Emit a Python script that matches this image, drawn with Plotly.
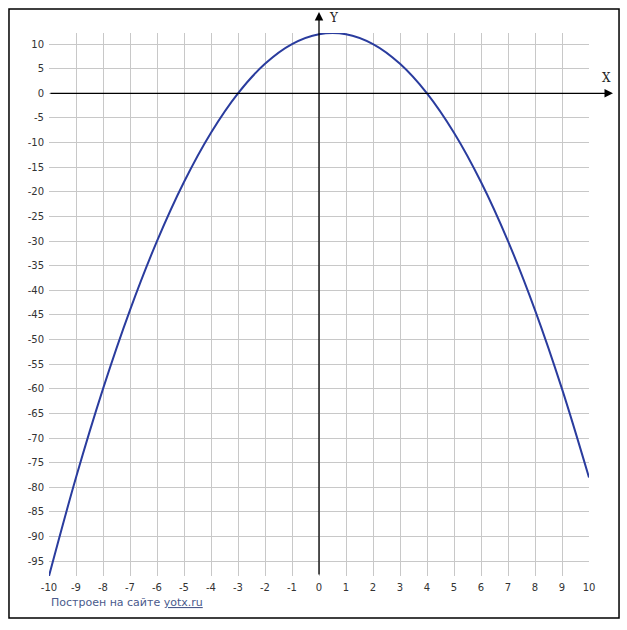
import plotly.graph_objects as go

# points at each grid x
x_vals = [-10, -9, -8, -7, -6, -5, -4, -3, -2, -1, 0, 1, 2, 3, 4, 5, 6, 7, 8, 9, 10]
y_vals = [-98, -78, -60, -44, -30, -18, -8, 0, 6, 10, 12, 12, 10, 6, 0, -8, -18, -30, -44, -60, -78]

x_ticks = list(range(-10, 11))
y_ticks = list(range(10, -100, -5))

fig = go.Figure()
fig.add_trace(go.Scatter(x=x_vals, y=y_vals, mode='lines', line_shape='spline',
                         line=dict(color='#2a3c9e', width=2), hoverinfo='skip'))

fig.update_layout(
    width=627, height=630,
    margin=dict(l=49, r=38, t=33, b=54),
    paper_bgcolor='white', plot_bgcolor='white',
    showlegend=False,
    font=dict(family='DejaVu Sans', size=10, color='#333333'),
)
fig.update_xaxes(range=[-10, 10], tickvals=x_ticks, ticktext=[str(v) for v in x_ticks],
                 showgrid=True, gridcolor='#c8c8c8', gridwidth=1, zeroline=False,
                 showline=False, ticks='', ticklabelstandoff=4, fixedrange=True)
fig.update_yaxes(range=[-98, 12.25], tickvals=y_ticks, ticktext=[str(v) for v in y_ticks],
                 showgrid=True, gridcolor='#c8c8c8', gridwidth=1, zeroline=False,
                 showline=False, ticks='', ticklabelstandoff=4, fixedrange=True)

# outer frame
fig.add_shape(type='rect', xref='paper', yref='paper', x0=-0.0741, x1=1.0556, y0=-0.0773, y1=1.0442,
              line=dict(color='black', width=1.5))

# axes with arrows
fig.add_annotation(x=1.0444, xref='paper', y=0, yref='y', ax=-564, ay=0, axref='pixel', ayref='pixel',
                   text='', showarrow=True, arrowhead=2, arrowsize=1.3, arrowwidth=1.3, arrowcolor='black')
fig.add_annotation(x=0, xref='x', y=1.0387, yref='paper', ax=0, ay=564, axref='pixel', ayref='pixel',
                   text='', showarrow=True, arrowhead=2, arrowsize=1.3, arrowwidth=1.3, arrowcolor='black')
fig.add_annotation(x=1.033, xref='paper', y=0, yref='y', text='X', showarrow=False,
                   xanchor='center', yanchor='middle', yshift=15,
                   font=dict(family='DejaVu Serif', size=12, color='#222222'))
fig.add_annotation(x=0, xref='x', y=1.028, yref='paper', text='Y', showarrow=False,
                   xanchor='left', yanchor='middle', xshift=8,
                   font=dict(family='DejaVu Serif', size=12, color='#222222'))

# site caption
fig.add_annotation(x=0, xref='paper', y=-0.048, yref='paper', xanchor='left', yanchor='middle',
                   text='Построен на сайте <u>yotx.ru</u>', showarrow=False,
                   font=dict(family='DejaVu Sans', size=11, color='#4a5a8c'))

fig.write_html("out.html", config={'displayModeBar': False},
               post_script="document.body.style.margin='0';")
